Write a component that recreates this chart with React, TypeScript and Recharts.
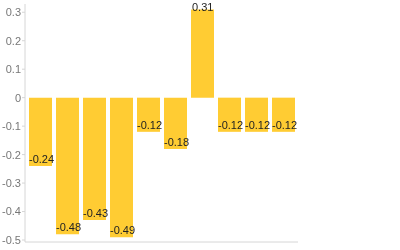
import { BarChart, Bar, XAxis, YAxis, LabelList } from "recharts";

const categories = ["a", "b", "c", "d", "e", "f", "g", "h", "i", "j"];
const values = [-0.24, -0.48, -0.43, -0.49, -0.12, -0.18, 0.31, -0.12, -0.12, -0.12];
const yTicks = [0.3, 0.2, 0.1, 0, -0.1, -0.2, -0.3, -0.4, -0.5];

const data = categories.map((name, i) => ({ name, value: values[i] }));

const FONT = "'Liberation Sans', Arial, Helvetica, sans-serif";

const ValueLabel = (props: any) => {
  const { x, y, width, height, value } = props;
  const top = Math.min(y, y + height);
  const bottom = Math.max(y, y + height);
  const baseline = value < 0 ? bottom - 3 : top + 1.5;
  return (
    <text
      x={x + (value < 0 ? 0 : 1)}
      y={baseline}
      fontSize={11}
      fontFamily={FONT}
      fill="#222"
      textAnchor="start"
    >
      {String(value)}
    </text>
  );
};

const App = () => {
  return (
    <div style={{ position: "fixed", left: 0, top: 0, width: 400, height: 250 }}>
      <BarChart
        width={400}
        height={250}
        data={data}
        margin={{ top: 4, right: 102, bottom: 7, left: 0 }}
      >
        <XAxis
          dataKey="name"
          height={1}
          tick={false}
          tickLine={false}
          stroke="#d6d6d6"
          padding={{ left: 2, right: 1 }}
        />
        <YAxis
          width={25}
          domain={[-0.507, 0.329]}
          allowDataOverflow
          ticks={yTicks}
          interval={0}
          tickSize={3}
          tickMargin={1}
          stroke="#d6d6d6"
          tick={{ fill: "#777", fontSize: 11, fontFamily: FONT }}
        />
        <Bar dataKey="value" fill="#ffcc33" barSize={23} isAnimationActive={false}>
          <LabelList dataKey="value" content={ValueLabel} />
        </Bar>
      </BarChart>
    </div>
  );
};

export default App;
